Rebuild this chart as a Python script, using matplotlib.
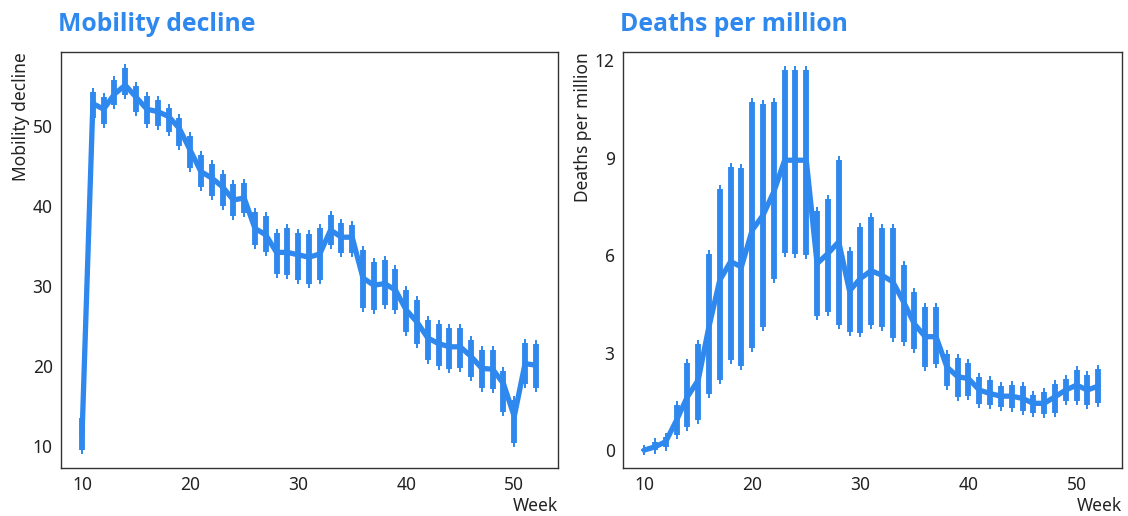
import matplotlib
matplotlib.use("Agg")
import matplotlib.pyplot as plt
import numpy as np

weeks = list(range(10, 53))

mob_mean = [11.5, 52.8, 52.1, 54.0, 55.1, 53.6, 52.1, 51.8, 51.2, 49.7, 47.0, 44.3, 43.5, 42.4,
            40.75, 41.0, 37.2, 36.4, 34.2, 34.2, 33.9, 33.6, 34.0, 37.0, 36.1, 36.1, 31.0, 30.1,
            30.3, 29.5, 27.0, 25.5, 23.5, 22.8, 22.4, 22.4, 21.2, 19.7, 19.6, 17.8, 13.7, 20.3, 20.1]
mob_lo = [9.5, 51.0, 50.3, 52.6, 53.9, 51.8, 50.25, 50.0, 49.3, 47.5, 44.7, 42.4, 41.25, 40.0,
          38.7, 39.1, 35.1, 34.3, 31.5, 31.4, 30.75, 30.25, 30.75, 35.1, 34.1, 34.1, 27.2, 27.0,
          27.6, 27.0, 24.3, 22.8, 20.7, 20.0, 19.6, 19.7, 18.6, 17.3, 17.1, 14.3, 10.4, 17.8, 17.3]
mob_hi = [13.5, 54.3, 53.6, 55.8, 57.2, 55.0, 53.75, 53.2, 52.2, 51.0, 48.7, 46.4, 45.25, 44.0,
          42.75, 42.9, 39.2, 38.7, 36.6, 37.2, 36.6, 36.5, 37.3, 38.9, 37.9, 37.6, 34.5, 33.0,
          33.25, 32.1, 29.5, 28.2, 25.8, 25.3, 24.8, 24.7, 23.3, 22.0, 22.0, 19.4, 15.8, 22.9, 22.8]

dth_mean = [0.0, 0.1, 0.26, 0.92, 1.64, 2.15, 3.8, 5.23, 5.8, 5.64, 6.77, 7.23, 7.95, 8.92,
            8.92, 8.92, 5.74, 6.05, 6.41, 4.9, 5.28, 5.52, 5.38, 5.18, 4.56, 3.88, 3.49, 3.49,
            2.56, 2.26, 2.2, 1.85, 1.74, 1.66, 1.66, 1.59, 1.44, 1.44, 1.64, 1.85, 2.0, 1.85, 1.97]
dth_lo = [-0.02, 0.0, 0.1, 0.46, 0.72, 0.92, 1.74, 2.15, 2.77, 2.6, 3.13, 3.8, 5.26, 6.07,
          6.05, 6.0, 4.12, 4.26, 3.85, 3.65, 3.59, 3.85, 3.8, 3.44, 3.33, 3.1, 2.56, 2.65,
          1.97, 1.62, 1.66, 1.42, 1.38, 1.33, 1.31, 1.21, 1.15, 1.11, 1.15, 1.52, 1.51, 1.38, 1.44]
dth_hi = [0.02, 0.25, 0.41, 1.38, 2.67, 3.28, 6.05, 8.05, 8.72, 8.67, 10.7, 10.65, 10.7, 11.7,
          11.7, 11.7, 7.36, 7.74, 8.94, 6.13, 6.87, 7.16, 6.85, 6.82, 5.69, 4.87, 4.41, 4.39,
          2.97, 2.82, 2.67, 2.26, 2.15, 1.97, 2.0, 1.97, 1.69, 1.79, 2.05, 2.2, 2.48, 2.3, 2.51]

mob_xticks = [10, 20, 30, 40, 50]
mob_yticks = [10, 20, 30, 40, 50]
dth_xticks = [10, 20, 30, 40, 50]
dth_yticks = [0, 3, 6, 9, 12]

BLUE = "#2f88ee"
plt.rcParams['font.family'] = ['Noto Sans', 'DejaVu Sans']

W, H = 1128, 516
fig = plt.figure(figsize=(W / 100, H / 100), dpi=100)
ax1 = fig.add_axes([61 / W, 48 / H, 497 / W, 416 / H])
ax2 = fig.add_axes([623 / W, 48 / H, 499 / W, 416 / H])


def draw(ax, mean, lo, hi, xlim, ylim, xticks, yticks, title, ylabel):
    x = np.array(weeks)
    mean = np.array(mean); lo = np.array(lo); hi = np.array(hi)
    ax.vlines(x, lo, hi, color=BLUE, lw=1.4, zorder=2)
    ax.plot(x, lo, ls='none', marker='|', ms=6, mew=1.4, color=BLUE, zorder=2)
    ax.plot(x, hi, ls='none', marker='|', ms=6, mew=1.4, color=BLUE, zorder=2)
    ax.vlines(x, lo, hi, color=BLUE, lw=4.2, zorder=3)
    ax.plot(x, mean, color=BLUE, lw=3.8, solid_capstyle='round', solid_joinstyle='round', zorder=4)
    ax.set_xlim(*xlim)
    ax.set_ylim(*ylim)
    ax.set_xticks(xticks)
    ax.set_yticks(yticks)
    ax.tick_params(length=0, labelsize=12.5, colors='#222222', pad=6)
    for s in ax.spines.values():
        s.set_color('#333333')
        s.set_linewidth(1.0)
    ax.set_xlabel('Week', loc='right', fontsize=12.5, color='#222222', labelpad=2)
    ax.set_ylabel(ylabel, loc='top', fontsize=12.5, color='#222222', labelpad=2)
    ax.set_title(title, loc='left', fontsize=17.8, fontweight='bold', color=BLUE, pad=15, x=-0.006,
                 family=['Open Sans', 'DejaVu Sans'])


draw(ax1, mob_mean, mob_lo, mob_hi, (8.05, 54.05), (7.25, 59.25), mob_xticks, mob_yticks,
     'Mobility decline', 'Mobility decline')
draw(ax2, dth_mean, dth_lo, dth_hi, (8.05, 54.2), (-0.55, 12.25), dth_xticks, dth_yticks,
     'Deaths per million', 'Deaths per million')

fig.savefig('out.png', dpi=100)
